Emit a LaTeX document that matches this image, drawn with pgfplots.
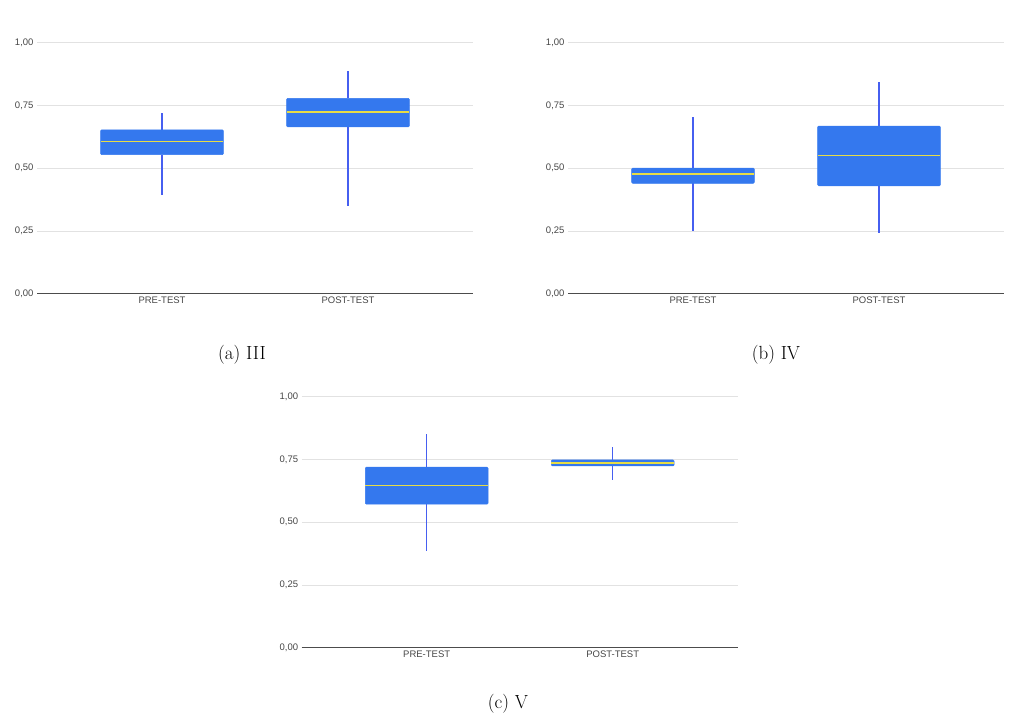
\documentclass[border=0pt]{standalone}
\usepackage{pgfplots}
\pgfplotsset{compat=1.18}
\usepgfplotslibrary{statistics}
\usepackage{fontspec}
\newfontfamily\sansf{Liberation Sans}
\definecolor{boxblue}{RGB}{52,120,238}
\definecolor{whisk}{RGB}{70,95,240}
\definecolor{med}{RGB}{230,220,70}
\definecolor{gridc}{RGB}{226,226,226}
\definecolor{tickc}{RGB}{70,70,70}
\pgfplotsset{
  panel/.style={
    scale only axis, width=436bp, height=251bp,
    xmin=-0.672, xmax=1.672, ymin=0, ymax=1, clip=false,
    axis x line=bottom, axis y line=left,
    y axis line style={draw=none},
    x axis line style={draw=black!70, line width=0.9bp, -},
    major tick length=0pt,
    ytick={0,0.25,0.5,0.75,1}, xtick={0,1}, xticklabels={PRE-TEST,POST-TEST},
    ymajorgrids, grid style={draw=gridc, line width=0.8bp},
    tick label style={font=\sansf\fontsize{9.5bp}{11bp}\selectfont, text=tickc},
    scaled y ticks=false,
    /pgf/number format/fixed, /pgf/number format/fixed zerofill,
    /pgf/number format/precision=2, /pgf/number format/use comma,
    /pgf/number format/assume math mode=true,
  },
  mybox/.style={
    boxplot/draw direction=y,
    boxplot/box extend=0.66,
    boxplot/whisker extend=0,
    boxplot/every box/.style={fill=boxblue, draw=boxblue, line width=0.5bp, rounded corners=1bp},
    boxplot/every median/.style={draw=med, line width=1.6bp},
    boxplot/every whisker/.style={draw=whisk, line width=1.2bp},
  },
}
\begin{document}
\begin{tikzpicture}
\useasboundingbox (0,0) rectangle (1011bp,719bp);
% (a) III
\begin{axis}[panel, at={(37bp,425.3bp)}, anchor=south west]
\addplot[mybox, boxplot prepared={draw position=0, lower whisker=0.394, lower quartile=0.554, median=0.606, upper quartile=0.653, upper whisker=0.718}] coordinates {};
\addplot[mybox, boxplot prepared={draw position=1, lower whisker=0.350, lower quartile=0.665, median=0.725, upper quartile=0.778, upper whisker=0.888}] coordinates {};
\end{axis}
% (b) IV
\begin{axis}[panel, at={(568bp,425.3bp)}, anchor=south west]
\addplot[mybox, boxplot prepared={draw position=0, lower whisker=0.250, lower quartile=0.440, median=0.477, upper quartile=0.500, upper whisker=0.705}] coordinates {};
\addplot[mybox, boxplot prepared={draw position=1, lower whisker=0.243, lower quartile=0.430, median=0.550, upper quartile=0.668, upper whisker=0.845}] coordinates {};
\end{axis}
% (c) V
\begin{axis}[panel, at={(301.7bp,71.3bp)}, anchor=south west]
\addplot[mybox, boxplot prepared={draw position=0, lower whisker=0.386, lower quartile=0.572, median=0.647, upper quartile=0.719, upper whisker=0.850}] coordinates {};
\addplot[mybox, boxplot prepared={draw position=1, lower whisker=0.668, lower quartile=0.724, median=0.735, upper quartile=0.748, upper whisker=0.800}] coordinates {};
\end{axis}
\node at (242bp,364bp) {\fontsize{19bp}{22bp}\selectfont (a) III};
\node at (776bp,364bp) {\fontsize{19bp}{22bp}\selectfont (b) IV};
\node at (508bp,15bp) {\fontsize{19bp}{22bp}\selectfont (c) V};
\end{tikzpicture}
\end{document}
